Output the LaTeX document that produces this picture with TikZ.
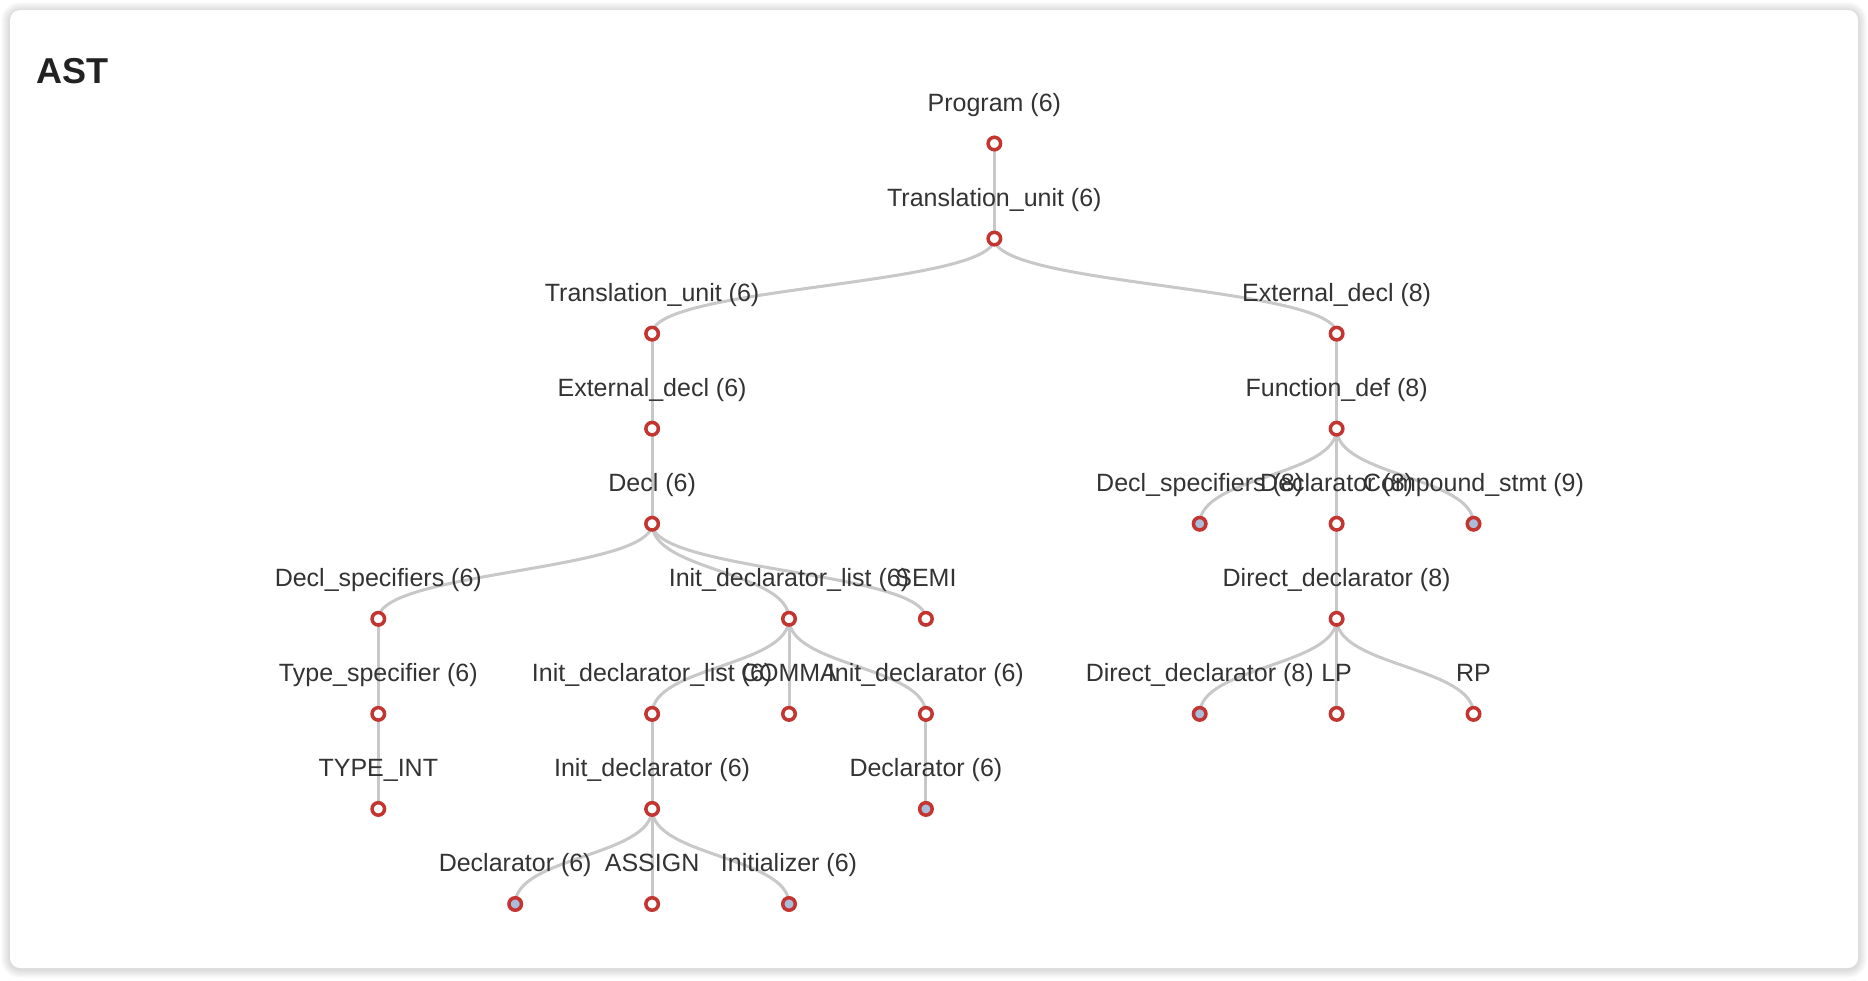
\documentclass[tikz,border=0pt]{standalone}
\usepackage{fontspec}
\setmainfont{Liberation Sans}
\usetikzlibrary{calc,backgrounds}
\definecolor{nodered}{HTML}{C23531}
\definecolor{edgegray}{HTML}{C8C8C8}
\definecolor{txtgray}{HTML}{333333}
\definecolor{titlegray}{HTML}{222222}
\definecolor{steel}{HTML}{A9BDDB}
\newcommand\tn[5]{\node[#5] (#1) at (#2,{143.5+95.06*#3}) {};
  \node[lbl] (#1l) at ($(#1)+(0,-32.3)$) {#4};}
\newcommand\edg[2]{\draw[edgeline] (#1.center) .. controls ($(#1.center)+(0,47.53)$) and ($(#2.center)+(0,-47.53)$) .. (#2.center);}
\begin{document}
\begin{tikzpicture}[x=1pt,y=-1pt,
  tnode/.style={circle,draw=nodered,line width=3.5pt,fill=white,inner sep=0pt,minimum size=12.5pt},
  tleaf/.style={tnode,fill=steel},
  lbl/.style={anchor=base,inner sep=0pt,text=txtgray,font=\fontsize{25}{30}\selectfont},
  edgeline/.style={draw=edgegray,line width=3pt}]
\useasboundingbox (0,0) rectangle (1868,980);
\begin{pgfonlayer}{background}
  \fill[white] (0,0) rectangle (1868,980);
  \foreach \s in {1,...,9}{
    \fill[black,opacity=0.015,rounded corners={10+\s}] ({10-\s},{10-\s+1}) rectangle ({1858+\s},{968+\s+1});
  }
  \fill[white,rounded corners=10] (10,10) rectangle (1858,968);
\end{pgfonlayer}
\node[anchor=base west,inner sep=0pt,text=titlegray,font=\fontsize{36}{40}\selectfont\bfseries] (title) at (36,83) {AST};
\tn{prog}{994.35}{0}{Program (6)}{tnode}
\tn{tu}{994.35}{1}{Translation\_unit (6)}{tnode}
\tn{tub}{652.1}{2}{Translation\_unit (6)}{tnode}
\tn{ed}{652.1}{3}{External\_decl (6)}{tnode}
\tn{decl}{652.1}{4}{Decl (6)}{tnode}
\tn{ds}{378.3}{5}{Decl\_specifiers (6)}{tnode}
\tn{ts}{378.3}{6}{Type\_specifier (6)}{tnode}
\tn{ti}{378.3}{7}{TYPE\_INT}{tnode}
\tn{idl}{789.0}{5}{Init\_declarator\_list (6)}{tnode}
\tn{idlb}{652.1}{6}{Init\_declarator\_list (6)}{tnode}
\tn{idb}{652.1}{7}{Init\_declarator (6)}{tnode}
\tn{dcb}{515.2}{8}{Declarator (6)}{tleaf}
\tn{asg}{652.1}{8}{ASSIGN}{tnode}
\tn{ini}{789.0}{8}{Initializer (6)}{tleaf}
\tn{comma}{789.0}{6}{COMMA}{tnode}
\tn{ida}{925.9}{6}{Init\_declarator (6)}{tnode}
\tn{dca}{925.9}{7}{Declarator (6)}{tleaf}
\tn{semi}{925.9}{5}{SEMI}{tnode}
\tn{ed8}{1336.6}{2}{External\_decl (8)}{tnode}
\tn{fd}{1336.6}{3}{Function\_def (8)}{tnode}
\tn{ds8}{1199.7}{4}{Decl\_specifiers (8)}{tleaf}
\tn{dc8}{1336.6}{4}{Declarator (8)}{tnode}
\tn{cs}{1473.5}{4}{Compound\_stmt (9)}{tleaf}
\tn{dd}{1336.6}{5}{Direct\_declarator (8)}{tnode}
\tn{ddb}{1199.7}{6}{Direct\_declarator (8)}{tleaf}
\tn{lp}{1336.6}{6}{LP}{tnode}
\tn{rp}{1473.5}{6}{RP}{tnode}
\begin{pgfonlayer}{background}
\edg{prog}{tu}
\edg{tu}{tub}
\edg{tu}{ed8}
\edg{tub}{ed}
\edg{ed}{decl}
\edg{decl}{ds}
\edg{decl}{idl}
\edg{decl}{semi}
\edg{ds}{ts}
\edg{ts}{ti}
\edg{idl}{idlb}
\edg{idl}{comma}
\edg{idl}{ida}
\edg{idlb}{idb}
\edg{idb}{dcb}
\edg{idb}{asg}
\edg{idb}{ini}
\edg{ida}{dca}
\edg{ed8}{fd}
\edg{fd}{ds8}
\edg{fd}{dc8}
\edg{fd}{cs}
\edg{dc8}{dd}
\edg{dd}{ddb}
\edg{dd}{lp}
\edg{dd}{rp}
\end{pgfonlayer}
\end{tikzpicture}
\end{document}
